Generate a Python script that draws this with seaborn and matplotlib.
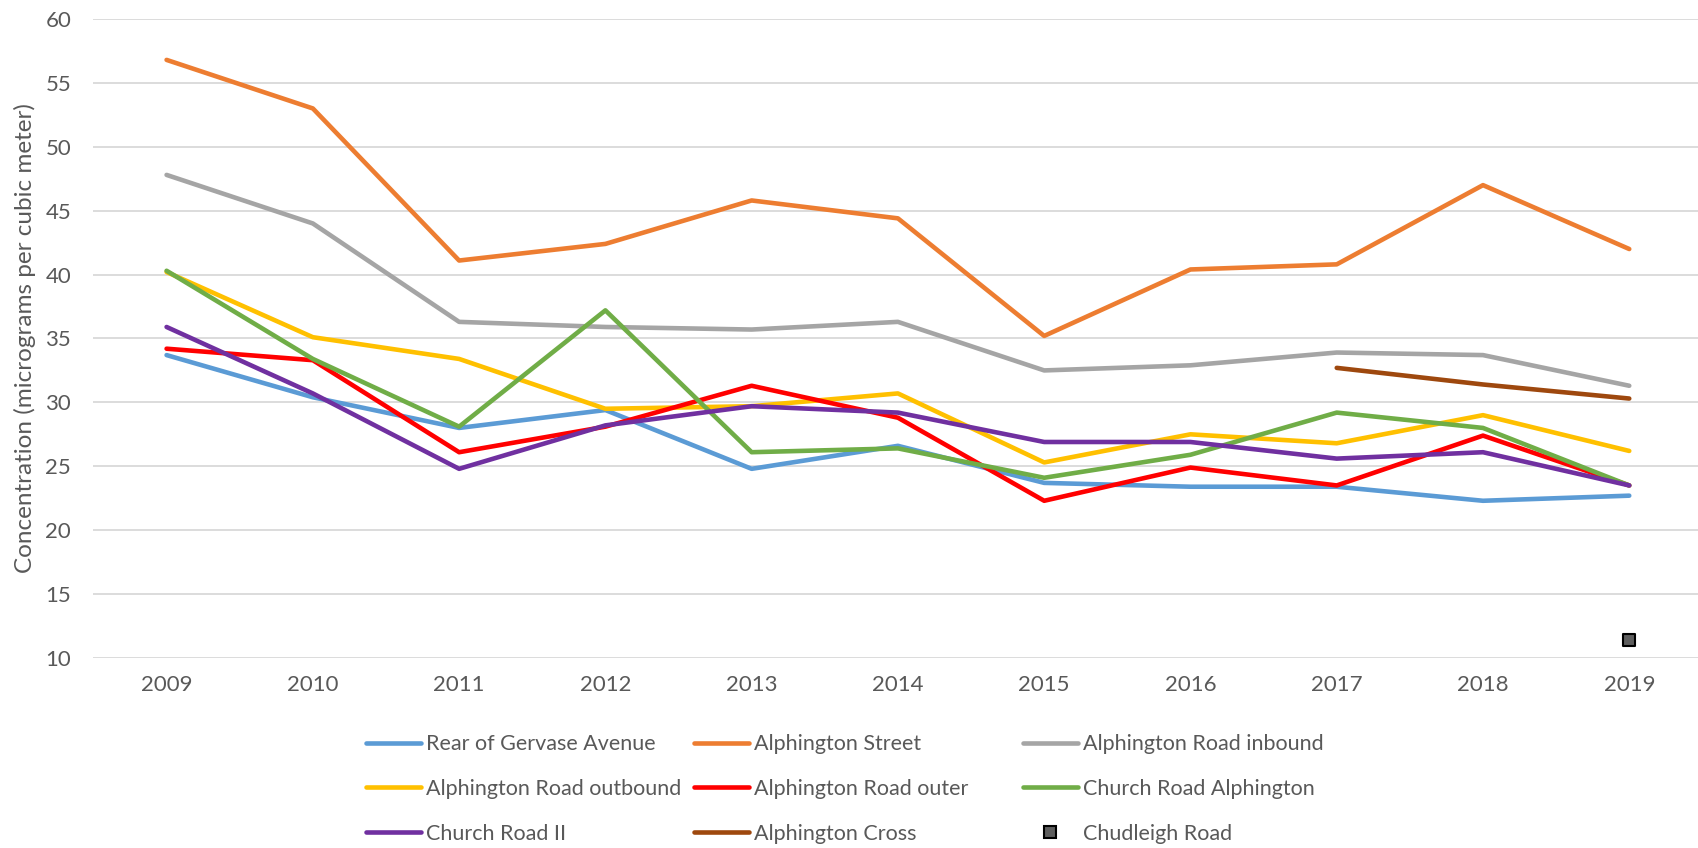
import numpy as np
import pandas as pd
import matplotlib
matplotlib.use("Agg")
import matplotlib.pyplot as plt
import seaborn as sns
from matplotlib.lines import Line2D

nan = np.nan
years = [2009, 2010, 2011, 2012, 2013, 2014, 2015, 2016, 2017, 2018, 2019]
rear_gervase = [33.7, 30.4, 28.0, 29.4, 24.8, 26.6, 23.7, 23.4, 23.4, 22.3, 22.7]
alphington_street = [56.8, 53.0, 41.1, 42.4, 45.8, 44.4, 35.2, 40.4, 40.8, 47.0, 42.0]
alphington_inbound = [47.8, 44.0, 36.3, 35.9, 35.7, 36.3, 32.5, 32.9, 33.9, 33.7, 31.3]
alphington_outbound = [40.2, 35.1, 33.4, 29.5, 29.7, 30.7, 25.3, 27.5, 26.8, 29.0, 26.2]
alphington_outer = [34.2, 33.3, 26.1, 28.1, 31.3, 28.8, 22.3, 24.9, 23.5, 27.4, 23.5]
church_alphington = [40.3, 33.4, 28.1, 37.2, 26.1, 26.4, 24.1, 25.9, 29.2, 28.0, 23.5]
church_ii = [35.9, 30.7, 24.8, 28.2, 29.7, 29.2, 26.9, 26.9, 25.6, 26.1, 23.5]
alphington_cross = [nan, nan, nan, nan, nan, nan, nan, nan, 32.7, 31.4, 30.3]
chudleigh = [nan, nan, nan, nan, nan, nan, nan, nan, nan, nan, 11.4]

line_series = {
    "Rear of Gervase Avenue": rear_gervase,
    "Alphington Street": alphington_street,
    "Alphington Road inbound": alphington_inbound,
    "Alphington Road outbound": alphington_outbound,
    "Alphington Road outer": alphington_outer,
    "Church Road Alphington": church_alphington,
    "Church Road II": church_ii,
    "Alphington Cross": alphington_cross,
}
colors = {
    "Rear of Gervase Avenue": "#5B9BD5",
    "Alphington Street": "#ED7D31",
    "Alphington Road inbound": "#A5A5A5",
    "Alphington Road outbound": "#FFC000",
    "Alphington Road outer": "#FF0000",
    "Church Road Alphington": "#70AD47",
    "Church Road II": "#7030A0",
    "Alphington Cross": "#9E480E",
}

rows = []
for name, vals in line_series.items():
    for i, v in enumerate(vals):
        rows.append({"idx": i, "site": name, "value": v})
df = pd.DataFrame(rows).dropna()
chud_df = pd.DataFrame({"idx": range(len(years)), "value": chudleigh}).dropna()

sns.set_theme(style="white")
plt.rcParams["font.family"] = ["Lato", "DejaVu Sans"]
text_color = "#595959"
LW = 3.3

fig = plt.figure(figsize=(16.99, 8.48), dpi=100)
ax = fig.add_axes([0.0550, 0.2241, 0.947, 0.7535])

sns.lineplot(data=df, x="idx", y="value", hue="site", palette=colors,
             hue_order=list(line_series.keys()), linewidth=LW, ax=ax,
             legend=False, solid_capstyle="round", sort=False)
sns.scatterplot(data=chud_df, x="idx", y="value", marker="s", s=85,
                color="#5E5E5E", edgecolor="black", linewidth=1.5, ax=ax,
                legend=False, zorder=5)

ax.set_xlim(-0.5, len(years) - 0.5)
ax.set_ylim(10, 60)
ax.set_yticks(range(10, 61, 5))
ax.set_xticks(range(len(years)))
ax.set_xticklabels([str(y) for y in years])
ax.grid(axis="y", color="#D9D9D9", linewidth=1.3)
ax.set_axisbelow(True)
for s in ax.spines.values():
    s.set_visible(False)
ax.tick_params(axis="both", length=0, labelsize=16, colors=text_color)
ax.tick_params(axis="y", pad=16)
ax.tick_params(axis="x", pad=12.5)
ax.set_xlabel("")
ax.set_ylabel("")
fig.text(0.0145, 0.6014, "Concentration (micrograms per cubic meter)", rotation=90,
         ha="center", va="center", fontsize=17.5, color=text_color)

# legend: three columns placed like the original
cols = [
    ["Rear of Gervase Avenue", "Alphington Road outbound", "Church Road II"],
    ["Alphington Street", "Alphington Road outer", "Alphington Cross"],
    ["Alphington Road inbound", "Church Road Alphington", "Chudleigh Road"],
]
xpos = [0.2154, 0.4085, 0.6019]
for col, x in zip(cols, xpos):
    handles = []
    for name in col:
        if name == "Chudleigh Road":
            handles.append(Line2D([], [], linestyle="none", marker="s", markersize=9,
                                  markerfacecolor="#5E5E5E", markeredgecolor="black",
                                  markeredgewidth=1.5))
        else:
            handles.append(Line2D([], [], color=colors[name], linewidth=LW,
                                  solid_capstyle="round"))
    leg = fig.legend(handles, col, loc="upper left", bbox_to_anchor=(x, 0.1343),
                     frameon=False, fontsize=15.5, handlelength=2.56, handletextpad=0.23,
                     labelspacing=1.15, borderpad=0, borderaxespad=0)
    for t in leg.get_texts():
        t.set_color(text_color)

fig.savefig("out.png", dpi=100)
